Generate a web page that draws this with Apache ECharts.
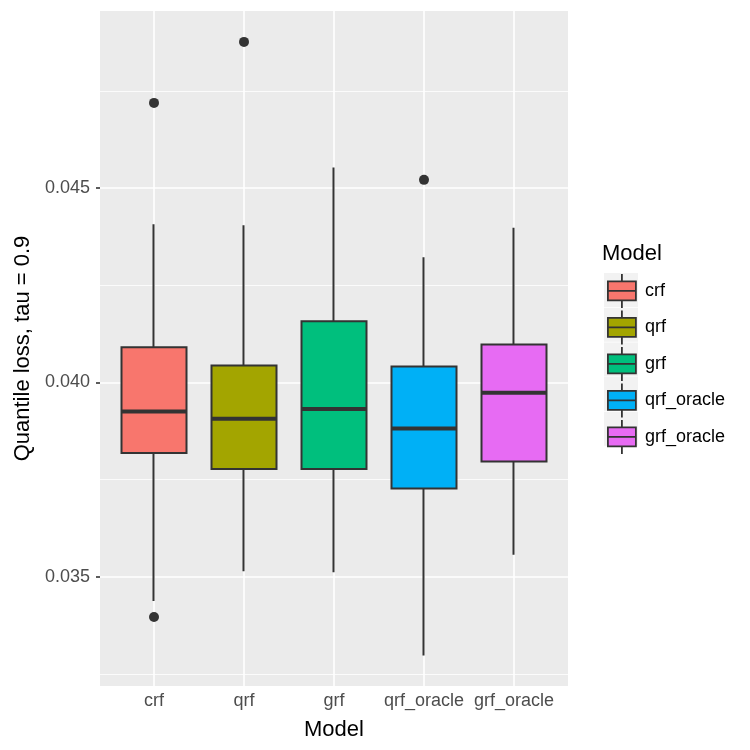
<!DOCTYPE html>
<html>
<head>
  <meta http-equiv="Content-Type" content="text/html; charset=utf-8"/>
  <title>Quantile loss boxplot</title>
  <script src="https://cdn.jsdelivr.net/npm/echarts@6/dist/echarts.min.js"></script>
</head>
<body style="margin:0">
<div id="main" style="width:750px;height:750px;"></div>
<script type="text/javascript">
var FONT = 'Liberation Sans, Arial, sans-serif';

// data
var models = ['crf', 'qrf', 'grf', 'qrf_oracle', 'grf_oracle'];
var colors = ['#F8766D', '#A3A500', '#00BF7D', '#00B0F6', '#E76BF3'];
var whiskerLow  = [0.03437, 0.03514, 0.03511, 0.03297, 0.03556];
var q1          = [0.03818, 0.03777, 0.03777, 0.03727, 0.03796];
var medians     = [0.03925, 0.03906, 0.03931, 0.03881, 0.03973];
var q3          = [0.04090, 0.04043, 0.04157, 0.04041, 0.04097];
var whiskerHigh = [0.04407, 0.04404, 0.04553, 0.04322, 0.04398];
var outlierModel = ['crf', 'crf', 'qrf', 'qrf_oracle'];
var outlierValue = [0.04719, 0.03396, 0.04876, 0.04521];

var yTicks = [0.035, 0.040, 0.045];
var yMinor = [0.0325, 0.0375, 0.0425, 0.0475];
var yMin = 0.032185, yMax = 0.049555;

var boxData = [];
var medData = [];
for (var i = 0; i < models.length; i++) {
  boxData.push({
    value: [q1[i], q3[i], whiskerLow[i], whiskerHigh[i]],
    itemStyle: {color: colors[i], color0: colors[i], borderColor: '#333333', borderColor0: '#333333'}
  });
  medData.push([models[i], medians[i]]);
}
var outData = [];
for (var j = 0; j < outlierModel.length; j++) {
  outData.push([outlierModel[j], outlierValue[j]]);
}

var legendSeries = models.map(function (m, k) {
  return {
    name: m, type: 'scatter', xAxisIndex: 1, yAxisIndex: 2, data: [],
    itemStyle: {color: colors[k], opacity: 1}
  };
});

var chart = echarts.init(document.getElementById('main'));
var option = {
  animation: false,
  title: {
    text: 'Model', left: 602, top: 243, padding: 0,
    textStyle: {fontSize: 22, fontWeight: 'normal', color: '#000', fontFamily: FONT}
  },
  legend: [
    {
      data: models, orient: 'vertical', left: 604, top: 273, padding: 0, z: 3,
      itemWidth: 34, itemHeight: 34, itemGap: 0.7, icon: 'rect', selectedMode: false,
      itemStyle: {color: '#F2F2F2', borderWidth: 0, opacity: 1},
      textStyle: {fontSize: 18, color: 'rgba(0,0,0,0)', fontFamily: FONT}
    },
    {
      data: models, orient: 'vertical', left: 607, top: 273, padding: 0, z: 4,
      itemWidth: 28, itemHeight: 34, itemGap: 0.7, selectedMode: false,
      icon: 'path://M14,0L14,7.5M0,7.5L28,7.5L28,26.5L0,26.5ZM0,17L28,17M14,26.5L14,34',
      itemStyle: {borderColor: '#333333', borderWidth: 1.8, opacity: 1},
      textStyle: {fontSize: 18, color: '#000', fontFamily: FONT, padding: [0, 0, 0, 4]}
    }
  ],
  grid: [
    {left: 100, right: 182, top: 11, bottom: 64, show: true, backgroundColor: '#EBEBEB', borderWidth: 0},
    {left: 109, right: 191, top: 11, bottom: 64}
  ],
  xAxis: [
    {
      type: 'value', gridIndex: 0, min: 0.4, max: 5.6,
      axisLine: {show: false}, axisLabel: {show: false},
      axisTick: {show: false, customValues: [1, 2, 3, 4, 5]},
      splitLine: {show: true, lineStyle: {color: '#ffffff', width: 1.6}}
    },
    {
      type: 'category', gridIndex: 1, data: models,
      name: 'Model', nameLocation: 'middle', nameGap: 33,
      nameTextStyle: {fontSize: 22, color: '#000', fontFamily: FONT},
      axisLine: {show: false},
      axisTick: {alignWithLabel: true, length: 4, lineStyle: {color: '#333333', width: 1.6}},
      axisLabel: {interval: 0, fontSize: 18, color: '#4D4D4D', margin: 6, fontFamily: FONT},
      splitLine: {show: false}
    }
  ],
  yAxis: [
    {
      type: 'value', gridIndex: 0, min: yMin, max: yMax,
      name: 'Quantile loss, tau = 0.9', nameLocation: 'middle', nameGap: 66, nameRotate: 90,
      nameTextStyle: {fontSize: 22, color: '#000', fontFamily: FONT},
      axisLine: {show: false},
      axisTick: {show: true, length: 4, lineStyle: {color: '#333333', width: 1.6}, customValues: yTicks},
      axisLabel: {
        customValues: yTicks, fontSize: 18, color: '#4D4D4D', margin: 10, fontFamily: FONT,
        formatter: function (v) { return v.toFixed(3); }
      },
      splitLine: {show: true, lineStyle: {color: '#ffffff', width: 1.6}}
    },
    {
      type: 'value', gridIndex: 0, min: yMin, max: yMax, position: 'left',
      axisLine: {show: false}, axisLabel: {show: false},
      axisTick: {show: false, customValues: yMinor},
      splitLine: {show: true, lineStyle: {color: '#ffffff', width: 0.8}}
    },
    {type: 'value', gridIndex: 1, min: yMin, max: yMax, show: false}
  ],
  series: [
    {
      type: 'candlestick', xAxisIndex: 1, yAxisIndex: 2, barWidth: 66,
      itemStyle: {borderWidth: 2},
      data: boxData
    },
    {
      type: 'scatter', xAxisIndex: 1, yAxisIndex: 2, symbol: 'rect', symbolSize: [66, 4],
      itemStyle: {color: '#333333', opacity: 1}, z: 3, data: medData
    },
    {
      type: 'scatter', xAxisIndex: 1, yAxisIndex: 2, symbolSize: 10,
      itemStyle: {color: '#333333', opacity: 1}, z: 3, data: outData
    }
  ].concat(legendSeries)
};
chart.setOption(option);
</script>
</body>
</html>
